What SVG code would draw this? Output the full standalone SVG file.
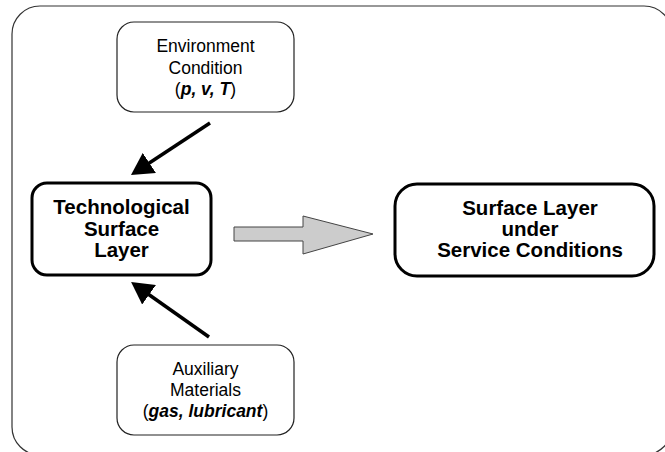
<svg xmlns="http://www.w3.org/2000/svg" width="665" height="452" viewBox="0 0 665 452">
<style>
.frame{fill:none;stroke:#333;stroke-width:1.2}
.thin{fill:#fff;stroke:#222;stroke-width:1.2}
.thick{fill:#fff;stroke:#000;stroke-width:3}
.reg{font-family:"Liberation Sans",Arial,sans-serif;font-size:17.5px;fill:#000;text-anchor:middle}
.bold{font-family:"Liberation Sans",Arial,sans-serif;font-size:20.5px;font-weight:bold;fill:#000;text-anchor:middle}
.bi{font-weight:bold;font-style:italic}
.conn{stroke:#000;stroke-width:3.5;fill:none}
</style>
<defs>
<marker id="head" viewBox="0 0 22 24" refX="16" refY="12" markerWidth="22" markerHeight="24" markerUnits="userSpaceOnUse" orient="auto">
<path d="M0,0 L22,12 L0,24 z" fill="#000"/>
</marker>
</defs>
<rect class="frame" x="12" y="6" width="660" height="449" rx="28" ry="28"/>
<g id="env">
<rect class="thin" x="117" y="22" width="177" height="90" rx="17" ry="17"/>
<text class="reg" x="205.5" y="52">Environment</text>
<text class="reg" x="205.5" y="73.5">Condition</text>
<text class="reg" x="205.5" y="95">(<tspan class="bi">p, v, T</tspan>)</text>
</g>
<g id="tech">
<rect class="thick" x="32" y="183" width="179" height="92" rx="15" ry="15"/>
<text class="bold" x="121.5" y="214">Technological</text>
<text class="bold" x="121.5" y="235.5">Surface</text>
<text class="bold" x="121.5" y="257">Layer</text>
</g>
<g id="service">
<rect class="thick" x="395" y="184" width="259" height="92" rx="22" ry="22"/>
<text class="bold" x="530" y="215">Surface Layer</text>
<text class="bold" x="530" y="236">under</text>
<text class="bold" x="530" y="257">Service Conditions</text>
</g>
<g id="aux">
<rect class="thin" x="117" y="345" width="177" height="90" rx="17" ry="17"/>
<text class="reg" x="205.5" y="375">Auxiliary</text>
<text class="reg" x="205.5" y="396">Materials</text>
<text class="reg" x="205.5" y="417">(<tspan class="bi">gas, lubricant</tspan>)</text>
</g>
<g id="connectors">
<line class="conn" x1="210" y1="123" x2="136" y2="171.7" marker-end="url(#head)"/>
<line class="conn" x1="209" y1="337" x2="136" y2="285.5" marker-end="url(#head)"/>
<path d="M234,227 L303,227 L303,216 L373,234 L303,254 L303,241 L234,241 z" fill="#cccccc" stroke="#444" stroke-width="1"/>
</g>
</svg>
